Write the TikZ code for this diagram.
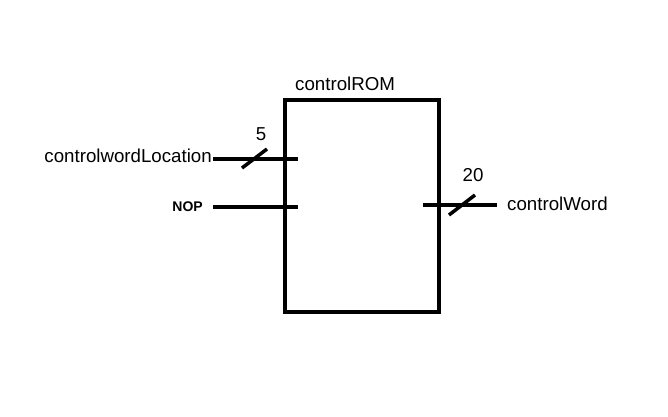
\documentclass[tikz,border=0pt]{standalone}
\usepackage{fontspec}
\setmainfont{Liberation Sans}
\begin{document}
\begin{tikzpicture}[x=1pt,y=-1pt,
  wire/.style={line width=4pt},
  busmark/.style={line width=3.5pt},
  lbl/.style={inner sep=0pt,font=\fontsize{18.7}{20}\selectfont},
  boldlbl/.style={inner sep=0pt,font=\fontsize{14}{16}\selectfont\bfseries}]
\useasboundingbox[fill=white] (0,0) rectangle (668,416);
% block
\node[draw,line width=4pt,minimum width=154pt,minimum height=212pt,inner sep=0pt] (rom) at (362,206) {};
\node[lbl,anchor=south west] (romname) at (295,91) {controlROM};
% input: controlwordLocation
\coordinate (a1) at (213,159);
\coordinate (a2) at (298,159);
\draw[wire] (a1) -- (a2);
\node[lbl,anchor=east] (cwl) at (212,156) {controlwordLocation};
\coordinate (s1a) at (242,168);
\coordinate (s1b) at (267,149);
\draw[busmark] (s1a) -- (s1b);
\node[lbl] (w5) at (261,134) {5};
% input: NOP
\coordinate (b1) at (213,207);
\coordinate (b2) at (298,207);
\draw[wire] (b1) -- (b2);
\node[boldlbl,anchor=east] (nop) at (203,207) {NOP};
% output: controlWord
\coordinate (c1) at (423,205);
\coordinate (c2) at (497,205);
\draw[wire] (c1) -- (c2);
\coordinate (s2a) at (449,215);
\coordinate (s2b) at (475,195);
\draw[busmark] (s2a) -- (s2b);
\node[lbl] (w20) at (473,175) {20};
\node[lbl,anchor=west] (cw) at (507,204) {controlWord};
\end{tikzpicture}
\end{document}
